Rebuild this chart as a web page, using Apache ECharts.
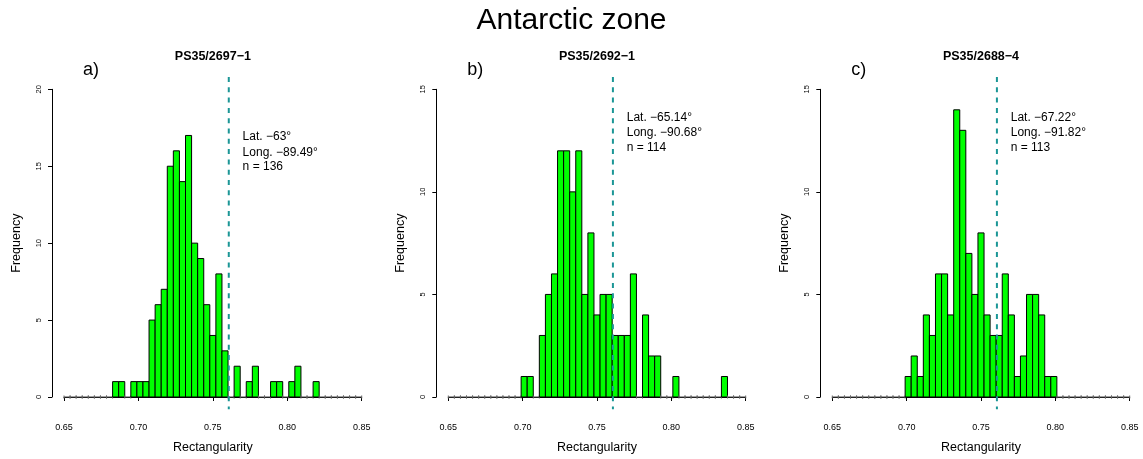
<!DOCTYPE html>
<html>
<head>
<meta charset="utf-8">
<script src="https://cdn.jsdelivr.net/npm/echarts@6/dist/echarts.min.js"></script>
<style>
html,body{margin:0;padding:0;background:#fff;}
#chart{width:1143px;height:459px;}
</style>
</head>
<body>
<div id="chart"></div>
<script>
// ---------- data ----------
const mainTitle = 'Antarctic zone';
const panelTitles = ['PS35/2697\u22121', 'PS35/2692\u22121', 'PS35/2688\u22124'];
const panelLetters = ['a)', 'b)', 'c)'];
const xTicks = [0.65, 0.70, 0.75, 0.80, 0.85];
const yTicksA = [0, 5, 10, 15, 20];
const yTicksB = [0, 5, 10, 15];
const yTicksC = [0, 5, 10, 15];
const BREAK_MIN = 0.65;
const BREAK_MAX = 0.85;
const N_BINS = 49;
const countsA = [0,0,0,0,0,0,0,0,1,1,0,1,1,1,5,6,7,15,16,14,17,10,9,6,4,8,3,0,2,0,1,2,0,0,1,1,0,1,2,0,0,1,0,0,0,0,0,0,0];
const countsB = [0,0,0,0,0,0,0,0,0,0,0,0,1,1,0,3,5,6,12,12,10,12,5,8,4,5,5,3,3,3,6,0,4,2,2,0,0,1,0,0,0,0,0,0,0,1,0,0,0];
const countsC = [0,0,0,0,0,0,0,0,0,0,0,0,1,2,1,4,3,6,6,4,14,13,7,5,8,4,3,3,6,4,1,2,5,5,4,1,1,0,0,0,0,0,0,0,0,0,0,0,0];
const refLine = 0.7607;
const annotX = 0.770;
const annotYA = [16.9, 15.9, 14.95];
const annotYB = [13.62, 12.87, 12.13];
const annotYC = [13.62, 12.87, 12.13];
const annotTextA = ['Lat. \u221263\u00b0', 'Long. \u221289.49\u00b0', 'n = 136'];
const annotTextB = ['Lat. \u221265.14\u00b0', 'Long. \u221290.68\u00b0', 'n = 114'];
const annotTextC = ['Lat. \u221267.22\u00b0', 'Long. \u221291.82\u00b0', 'n = 113'];

// ---------- layout ----------
const FONT = "'Liberation Sans', Arial, Helvetica, sans-serif";
const panels = [
  {left: 64,    width: 297.7, counts: countsA, yTicks: yTicksA, annotY: annotYA, annotText: annotTextA},
  {left: 448.3, width: 297.4, counts: countsB, yTicks: yTicksB, annotY: annotYB, annotText: annotTextB},
  {left: 832.3, width: 297.4, counts: countsC, yTicks: yTicksC, annotY: annotYC, annotText: annotTextC}
];
const GRID_TOP = 89.3, GRID_H = 312.4;

function histData(counts) {
  const w = (BREAK_MAX - BREAK_MIN) / N_BINS;
  return counts.map((c, i) => [BREAK_MIN + i * w, BREAK_MIN + (i + 1) * w, c]);
}

const grids = [], xAxes = [], yAxes = [], series = [], titles = [];
titles.push({text: mainTitle, left: 'center', top: 6, padding: 0,
  textStyle: {fontFamily: FONT, fontSize: 30, fontWeight: 'normal', color: '#000'}});

panels.forEach((p, i) => {
  const ymax = p.yTicks[p.yTicks.length - 1];
  grids.push({left: p.left, top: GRID_TOP, width: p.width, height: GRID_H});
  const plotLeft = p.left - 0.04 * p.width;
  const plotW = p.width * 1.08;
  titles.push({text: panelTitles[i], left: plotLeft + plotW / 2, textAlign: 'center', top: 50, padding: 0,
    textStyle: {fontFamily: FONT, fontSize: 12.5, fontWeight: 'bold', color: '#000'}});
  titles.push({text: panelLetters[i], left: p.left + 19, top: 61, padding: 0,
    textStyle: {fontFamily: FONT, fontSize: 18, fontWeight: 'normal', color: '#000'}});
  xAxes.push({
    gridIndex: i, type: 'value', min: xTicks[0], max: xTicks[xTicks.length - 1], interval: 0.05,
    position: 'bottom', offset: 12,
    axisLine: {show: true, lineStyle: {color: '#000', width: 1}},
    axisTick: {show: true, length: 4, lineStyle: {color: '#000'}},
    axisLabel: {fontFamily: FONT, fontSize: 9, color: '#000', margin: 14, formatter: v => v.toFixed(2), showMinLabel: true, showMaxLabel: true},
    splitLine: {show: false},
    name: 'Rectangularity', nameLocation: 'middle', nameGap: 32,
    nameTextStyle: {fontFamily: FONT, fontSize: 12.5, color: '#000'}
  });
  yAxes.push({
    gridIndex: i, type: 'value', min: 0, max: ymax, interval: 5,
    position: 'left', offset: 12,
    axisLine: {show: true, lineStyle: {color: '#000', width: 1}},
    axisTick: {show: true, length: 4, lineStyle: {color: '#000'}},
    axisLabel: {fontFamily: FONT, fontSize: 7.5, color: '#000', rotate: 90, margin: 9, showMinLabel: true, showMaxLabel: true},
    splitLine: {show: false},
    name: 'Frequency', nameLocation: 'middle', nameGap: 29,
    nameTextStyle: {fontFamily: FONT, fontSize: 12.5, color: '#000'}
  });
  // histogram
  series.push({
    type: 'custom', xAxisIndex: i, yAxisIndex: i, clip: false,
    data: histData(p.counts),
    encode: {x: [0, 1], y: 2},
    renderItem: function (params, api) {
      const x0 = api.value(0), x1 = api.value(1), c = api.value(2);
      const p0 = api.coord([x0, c]);
      const p1 = api.coord([x1, 0]);
      if (c > 0) {
        return {type: 'rect', shape: {x: p0[0], y: p0[1], width: p1[0] - p0[0], height: p1[1] - p0[1]},
          style: {fill: '#00FF00', stroke: '#000', lineWidth: 1}};
      }
      return {type: 'group', children: [
        {type: 'line', shape: {x1: p0[0], y1: p1[1], x2: p1[0], y2: p1[1]}, style: {stroke: '#444', lineWidth: 1}},
        {type: 'line', shape: {x1: p0[0], y1: p1[1] - 1.5, x2: p0[0], y2: p1[1] + 1.5}, style: {stroke: '#666', lineWidth: 1}},
        {type: 'line', shape: {x1: p1[0], y1: p1[1] - 1.5, x2: p1[0], y2: p1[1] + 1.5}, style: {stroke: '#666', lineWidth: 1}}
      ]};
    }
  });
  // dashed reference line across whole plot region
  series.push({
    type: 'custom', xAxisIndex: i, yAxisIndex: i, clip: false,
    data: [[refLine]],
    encode: {x: 0},
    renderItem: function (params, api) {
      const v = api.value(0);
      const top = api.coord([v, ymax * 1.04]);
      const bot = api.coord([v, -ymax * 0.04]);
      return {type: 'line', shape: {x1: top[0], y1: top[1], x2: bot[0], y2: bot[1]},
        style: {stroke: '#1b9696', lineWidth: 2, lineDash: [5, 5.3]}};
    }
  });
  // annotation text
  series.push({
    type: 'custom', xAxisIndex: i, yAxisIndex: i, clip: false,
    data: p.annotY.map(y => [annotX, y]),
    encode: {x: 0, y: 1},
    renderItem: function (params, api) {
      const pt = api.coord([api.value(0), api.value(1)]);
      return {type: 'text', style: {text: p.annotText[params.dataIndex], x: pt[0], y: pt[1],
        align: 'left', verticalAlign: 'middle', fontFamily: FONT, fontSize: 12, fill: '#000'}};
    }
  });
});

const chart = echarts.init(document.getElementById('chart'), null, {renderer: 'canvas'});
chart.setOption({
  backgroundColor: '#fff',
  animation: false,
  title: titles,
  grid: grids,
  xAxis: xAxes,
  yAxis: yAxes,
  series: series
});
</script>
</body>
</html>
